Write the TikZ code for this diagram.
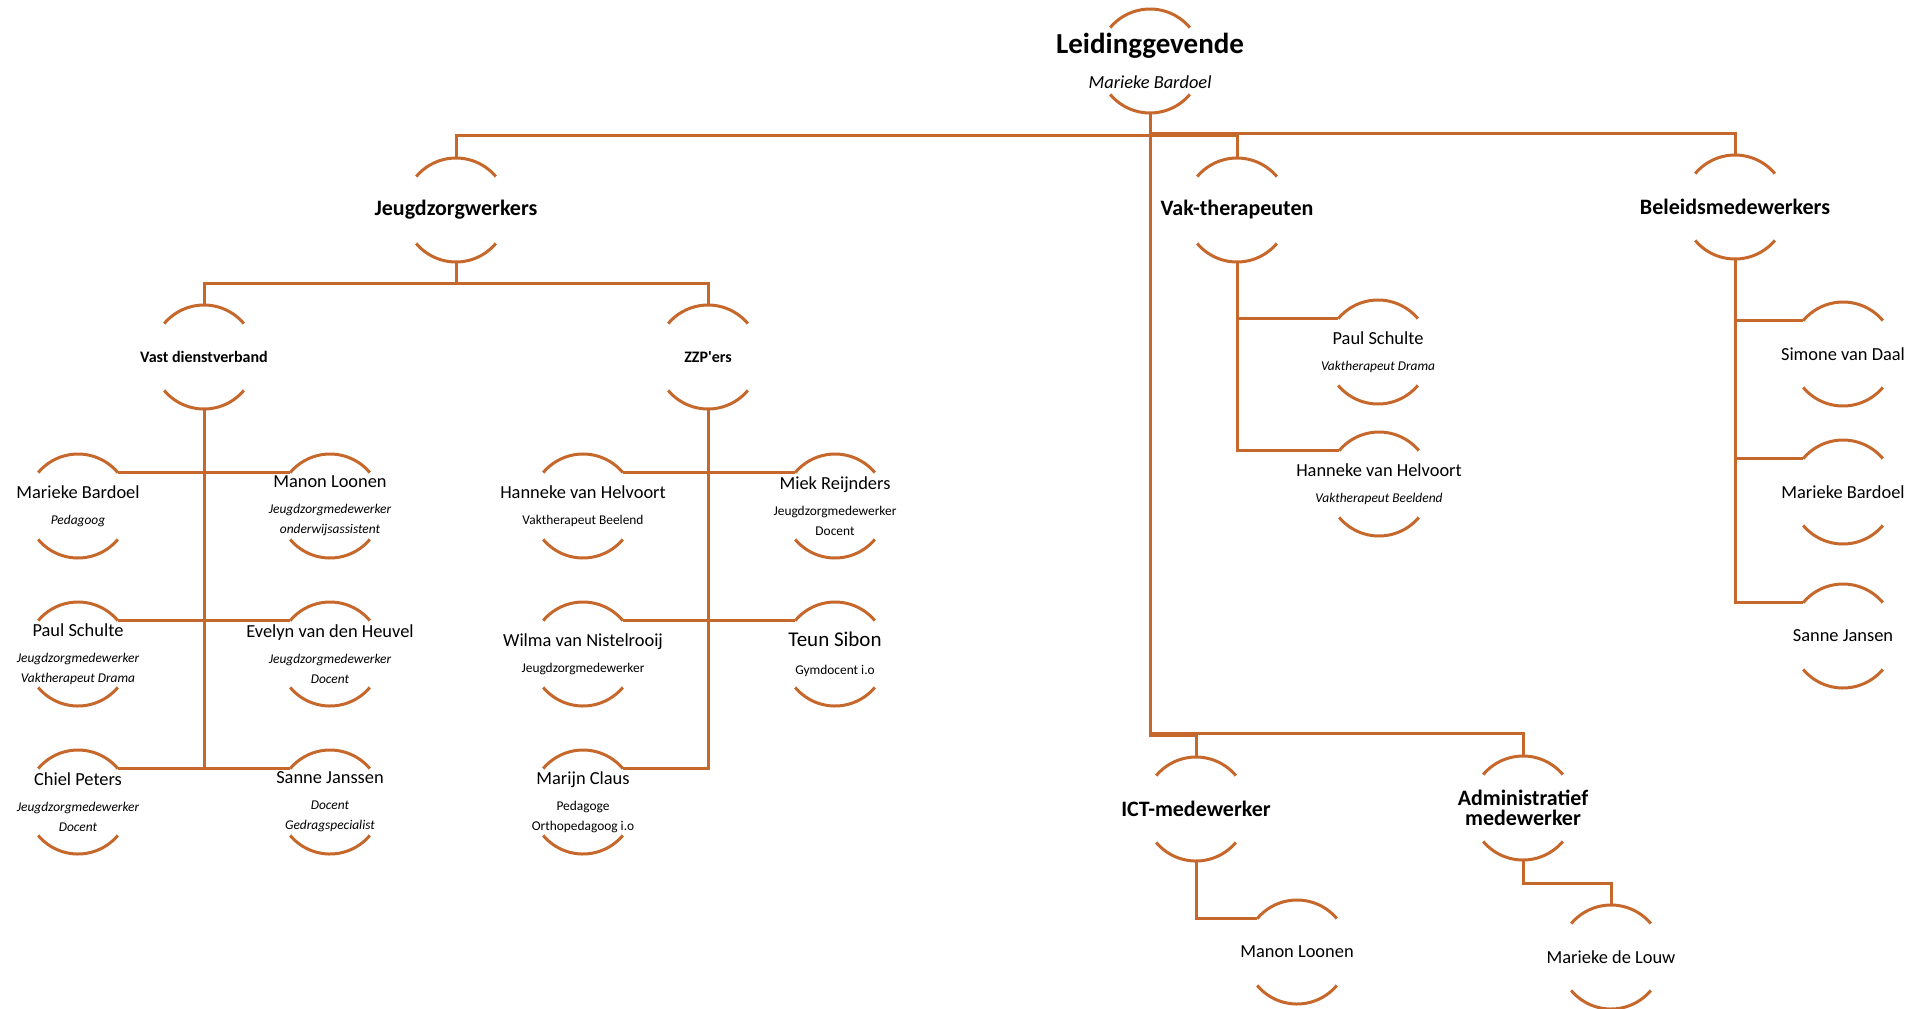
\documentclass[tikz,border=0pt]{standalone}
\usepackage{fontspec}
\setmainfont{Carlito}
\newfontfamily\carlitoraw{Carlito}
\usetikzlibrary{calc}
\definecolor{org}{RGB}{198,104,44}
\newcommand\fTop{\fontsize{14.5}{17}\selectfont\bfseries}
\newcommand\fHead{\fontsize{11}{11}\selectfont\bfseries}
\newcommand\fSH{\fontsize{8}{9}\selectfont\bfseries}
\newcommand\fName{\fontsize{9.2}{11}\selectfont}
\newcommand\fSub{\fontsize{6.7}{10}\selectfont}
\newcommand\nm[1]{{\fName #1}}
\newcommand\sI[1]{{\fSub\itshape #1}}
\newcommand\sR[1]{{\fSub #1}}
\tikzset{
  ln/.style={draw=org, line width=1.5pt},
  txt/.style={align=center, inner sep=0pt, font=\fSub, text=black},
}
\newcommand\orgnode[4]{%
  \node[txt] (#1) at (#2,#3) {#4};
  \coordinate (#1-t) at ($(#2,#3)+(0,26pt)$);
  \coordinate (#1-b) at ($(#2,#3)+(0,-26pt)$);
  \coordinate (#1-tl) at ($(#2,#3)+(140:26pt)$);
  \coordinate (#1-tr) at ($(#2,#3)+(40:26pt)$);
  \coordinate (#1-bl) at ($(#2,#3)+(220:26pt)$);
  \draw[ln] (#1-tr) arc[start angle=40,end angle=140,radius=26pt];
  \draw[ln] (#1-bl) arc[start angle=220,end angle=320,radius=26pt];
}
\begin{document}
\begin{tikzpicture}[x=0.5pt,y=-0.5pt]
\useasboundingbox (0,0) rectangle (1930,1008);
% top
\orgnode{L}{1150}{61}{{\fTop Leidinggevende}\\[7.5pt]{\fName\itshape Marieke Bardoel}}
\orgnode{jz}{456}{210}{{\fHead Jeugdzorgwerkers}}
\orgnode{vak}{1237}{210}{{\fHead Vak-therapeuten}}
\orgnode{bel}{1735}{207}{{\fHead Beleidsmedewerkers}}
\orgnode{vd}{204}{357}{{\fSH Vast dienstverband}}
\orgnode{zzp}{708}{357}{{\fSH\carlitoraw ZZP'ers}}
% vast dienstverband
\orgnode{mb}{78}{506}{\nm{Marieke Bardoel}\\[3pt]\sI{Pedagoog}}
\orgnode{ml}{330}{506}{\nm{Manon Loonen}\\[3pt]\sI{Jeugdzorgmedewerker}\\\sI{onderwijsassistent}}
\orgnode{ps}{78}{654}{\nm{Paul Schulte}\\[3pt]\sI{Jeugdzorgmedewerker}\\\sI{Vaktherapeut Drama}}
\orgnode{ev}{330}{654}{\nm{Evelyn van den Heuvel}\\[3pt]\sI{Jeugdzorgmedewerker}\\\sI{Docent}}
\orgnode{cp}{78}{802}{\nm{Chiel Peters}\\[3pt]\sI{Jeugdzorgmedewerker}\\\sI{Docent}}
\orgnode{sj}{330}{802}{\nm{Sanne Janssen}\\[3pt]\sI{Docent}\\\sI{Gedragspecialist}}
% ZZP
\orgnode{hh}{583}{506}{\nm{Hanneke van Helvoort}\\[3pt]\sR{Vaktherapeut Beelend}}
\orgnode{mr}{835}{506}{\nm{Miek Reijnders}\\[3pt]\sR{Jeugdzorgmedewerker}\\\sR{Docent}}
\orgnode{wn}{583}{654}{\nm{Wilma van Nistelrooij}\\[3pt]\sR{Jeugdzorgmedewerker}}
\orgnode{ts}{835}{654}{{\fontsize{10.5}{12}\selectfont Teun Sibon}\\[4pt]\sR{Gymdocent i.o}}
\orgnode{mc}{583}{802}{\nm{Marijn Claus}\\[3pt]\sR{Pedagoge}\\\sR{Orthopedagoog i.o}}
% vak
\orgnode{ps2}{1378}{352}{\nm{Paul Schulte}\\[3pt]\sI{Vaktherapeut Drama}}
\orgnode{hh2}{1379}{484}{\nm{Hanneke van Helvoort}\\[3pt]\sI{Vaktherapeut Beeldend}}
% beleid
\orgnode{sd}{1843}{354}{\nm{Simone van Daal}}
\orgnode{mb2}{1843}{492}{\nm{Marieke Bardoel}}
\orgnode{sj2}{1843}{636}{\nm{Sanne Jansen}}
% ict / adm
\orgnode{ict}{1196}{809}{{\fHead ICT-medewerker}}
\orgnode{adm}{1523}{808}{{\fHead Administratief}\\[0pt]{\fHead medewerker}}
\orgnode{ml2}{1297}{952}{\nm{Manon Loonen}}
\orgnode{mdl}{1611}{957}{\nm{Marieke de Louw}}
% connectors
\coordinate (busL) at (1150,135);
\coordinate (busR) at (1150,133);
\coordinate (busLow) at (1150,735);
\coordinate (busLow2) at (1150,733);
\coordinate (jzbus) at (456,283);
\coordinate (admj) at (1523,883);
\draw[ln] (L-b) -- (busL) -| (jz-t);
\draw[ln] (busL) -| (vak-t);
\draw[ln] (busR) -| (bel-t);
\draw[ln] (busL) -- (busLow) -| (ict-t);
\draw[ln] (busLow2) -| (adm-t);
\draw[ln] (jz-b) -- (jzbus) -| (vd-t);
\draw[ln] (jzbus) -| (zzp-t);
\draw[ln] (vd-b) -- (vd-b |- cp-tr);
\draw[ln] (mb-tr) -- (ml-tl);
\draw[ln] (ps-tr) -- (ev-tl);
\draw[ln] (cp-tr) -- (sj-tl);
\draw[ln] (zzp-b) -- (zzp-b |- mc-tr) -- (mc-tr);
\draw[ln] (hh-tr) -- (mr-tl);
\draw[ln] (wn-tr) -- (ts-tl);
\draw[ln] (vak-b) |- (ps2-tl);
\draw[ln] (vak-b) |- (hh2-tl);
\draw[ln] (bel-b) |- (sd-tl);
\draw[ln] (bel-b) |- (mb2-tl);
\draw[ln] (bel-b) |- (sj2-tl);
\draw[ln] (ict-b) |- (ml2-tl);
\draw[ln] (adm-b) -- (admj) -| (mdl-t);
\end{tikzpicture}
\end{document}
